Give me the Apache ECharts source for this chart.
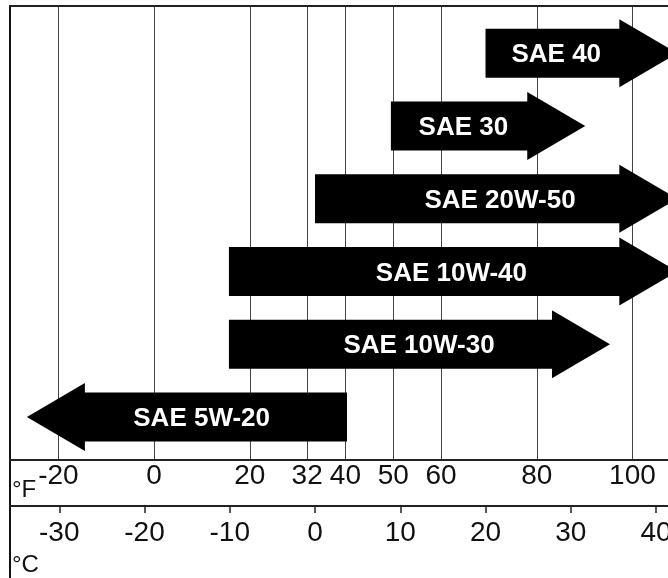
<!DOCTYPE html>
<html>
<head>
<meta charset="utf-8">
<title>SAE oil grade by temperature</title>
<script src="https://cdn.jsdelivr.net/npm/echarts@6/dist/echarts.min.js"></script>
<style>
  html, body { margin: 0; padding: 0; background: #fff; }
  #chart { width: 668px; height: 578px; }
</style>
</head>
<body>
<div id="chart"></div>
<script>
// grades, top row first
const grades = ['SAE 40', 'SAE 30', 'SAE 20W-50', 'SAE 10W-40', 'SAE 10W-30', 'SAE 5W-20']
const rows = [6, 5, 4, 3, 2, 1]
// arrow tail and tip (°C)
const tailC = [20, 8.9, 0, -10.1, -10.1, 3.75]
const tipC = [42.5, 31.7, 42.5, 42.5, 34.6, -33.8]
// where the grade name sits along the arrow (°C)
const labelC = [28.3, 17.4, 21.7, 16, 12.2, -13.3]

// tick labels
const fTicks = [-20, 0, 20, 32, 40, 50, 60, 80, 100]
const cTicks = [-30, -20, -10, 0, 10, 20, 30, 40]

const FONT = '"Liberation Sans", Arial, sans-serif'
const BODY = 24.5   // half height of arrow shaft
const HEAD = 34     // half height of arrow head
const HEAD_LEN = 58

const chart = echarts.init(document.getElementById('chart'))

const renderArrow = (params, api) => {
  const y = api.value(2)
  const tail = api.coord([api.value(0), y])
  const tip = api.coord([api.value(1), y])
  const dir = tip[0] > tail[0] ? 1 : -1
  const neck = tip[0] - dir * HEAD_LEN
  const cy = tail[1]
  const txt = api.coord([api.value(3), y])
  return {
    type: 'group',
    children: [
      {
        type: 'polygon',
        shape: {
          points: [
            [tail[0], cy - BODY], [neck, cy - BODY], [neck, cy - HEAD],
            [tip[0], cy], [neck, cy + HEAD], [neck, cy + BODY], [tail[0], cy + BODY]
          ]
        },
        style: { fill: '#000' }
      },
      {
        type: 'text',
        x: txt[0],
        y: txt[1] + 2,
        style: {
          text: grades[params.dataIndex],
          fill: '#fff',
          font: 'bold 26px ' + FONT,
          align: 'center',
          verticalAlign: 'middle'
        }
      }
    ]
  }
}

const option = {
  animation: false,
  backgroundColor: '#fff',
  grid: [
    { left: 10, top: 6, width: 690, height: 454, outerBoundsMode: 'none' },
    { left: 10, top: 460, width: 690, height: 150, outerBoundsMode: 'none' }
  ],
  xAxis: [
    {
      // °F scale, its ticks draw the vertical lines
      gridIndex: 0, type: 'value', position: 'bottom',
      min: -30.13, max: 114.13,
      axisLine: { onZero: false, lineStyle: { color: '#222', width: 2 } },
      axisTick: { show: false, customValues: fTicks },
      axisLabel: { customValues: fTicks, margin: 2, fontSize: 28, color: '#111', fontFamily: FONT },
      splitLine: { show: true, lineStyle: { color: '#444', width: 1 } }
    },
    {
      // °C scale for the arrows
      gridIndex: 0, type: 'value', show: false,
      min: -35.78, max: 45.16
    },
    {
      // top edge of the frame
      gridIndex: 0, type: 'value', position: 'top', min: 0, max: 1,
      axisLine: { onZero: false, lineStyle: { color: '#222', width: 2 } },
      axisTick: { show: false }, axisLabel: { show: false }, splitLine: { show: false }
    },
    {
      // °C scale row
      gridIndex: 1, type: 'value', position: 'top', offset: -46,
      min: -35.78, max: 45.16,
      axisLine: { onZero: false, lineStyle: { color: '#222', width: 2 } },
      axisTick: { customValues: cTicks, inside: true, length: 7, lineStyle: { color: '#222', width: 1.5 } },
      axisLabel: { customValues: cTicks, inside: true, margin: 13, fontSize: 28, color: '#111', fontFamily: FONT },
      splitLine: { show: false }
    }
  ],
  yAxis: [
    {
      gridIndex: 0, type: 'value', min: 0.41, max: 6.65,
      axisLine: { show: true, onZero: false, lineStyle: { color: '#111', width: 2 } },
      axisTick: { show: false }, axisLabel: { show: false }, splitLine: { show: false }
    },
    {
      gridIndex: 1, type: 'value', min: 0, max: 1,
      axisLine: { show: true, onZero: false, lineStyle: { color: '#111', width: 2 } },
      axisTick: { show: false }, axisLabel: { show: false }, splitLine: { show: false }
    }
  ],
  graphic: [
    { type: 'text', left: 12, top: 478, style: { text: '°F', font: '24px ' + FONT, fill: '#111' } },
    { type: 'text', left: 12, top: 553, style: { text: '°C', font: '24px ' + FONT, fill: '#111' } }
  ],
  series: [
    {
      type: 'custom',
      xAxisIndex: 1,
      yAxisIndex: 0,
      renderItem: renderArrow,
      encode: { x: [0, 1, 3], y: 2 },
      data: grades.map((g, i) => [tailC[i], tipC[i], rows[i], labelC[i]])
    }
  ]
}

chart.setOption(option)
</script>
</body>
</html>
